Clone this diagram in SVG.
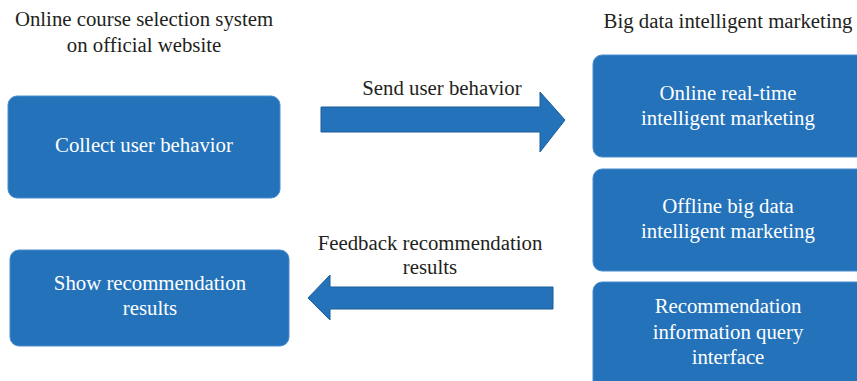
<svg xmlns="http://www.w3.org/2000/svg" width="857" height="381" viewBox="0 0 857 381">
<style>
.box{fill:#2372ba;stroke:#4a8ccc;stroke-width:1}
.arrow{fill:#2372ba;stroke:#1c5c98;stroke-width:1}
.t{font-family:"Liberation Serif",serif;font-size:20.8px;fill:#231f20;text-anchor:middle}
.w{font-family:"Liberation Serif",serif;font-size:20.8px;fill:#ffffff;text-anchor:middle}
</style>
<rect width="857" height="381" fill="#ffffff"/>
<text class="t" x="144" y="26">Online course selection system</text>
<text class="t" x="144" y="52">on official website</text>
<text class="t" x="728" y="28">Big data intelligent marketing</text>
<g id="collect">
<rect class="box" x="8" y="96" width="272" height="102" rx="9"/>
<text class="w" x="144" y="152">Collect user behavior</text>
</g>
<g id="show">
<rect class="box" x="10" y="250" width="279" height="96" rx="9"/>
<text class="w" x="150" y="290">Show recommendation</text>
<text class="w" x="150" y="315">results</text>
</g>
<g id="online">
<rect class="box" x="593" y="55" width="280" height="102" rx="9"/>
<text class="w" x="728" y="100">Online real-time</text>
<text class="w" x="728" y="125">intelligent marketing</text>
</g>
<g id="offline">
<rect class="box" x="593" y="169" width="280" height="102" rx="9"/>
<text class="w" x="728" y="213">Offline big data</text>
<text class="w" x="728" y="238">intelligent marketing</text>
</g>
<g id="query">
<rect class="box" x="593" y="282" width="280" height="110" rx="9"/>
<text class="w" x="728" y="313">Recommendation</text>
<text class="w" x="728" y="339">information query</text>
<text class="w" x="728" y="364">interface</text>
</g>
<g id="connectors">
<path class="arrow" d="M321,107 H540 V92 L565,120 L540,152 V132 H321 Z"/>
<text class="t" x="442" y="95">Send user behavior</text>
<path class="arrow" d="M553,287 H330 V275 L308,298 L330,320 V309 H553 Z"/>
<text class="t" x="430" y="250">Feedback recommendation</text>
<text class="t" x="430" y="274">results</text>
</g>
</svg>
